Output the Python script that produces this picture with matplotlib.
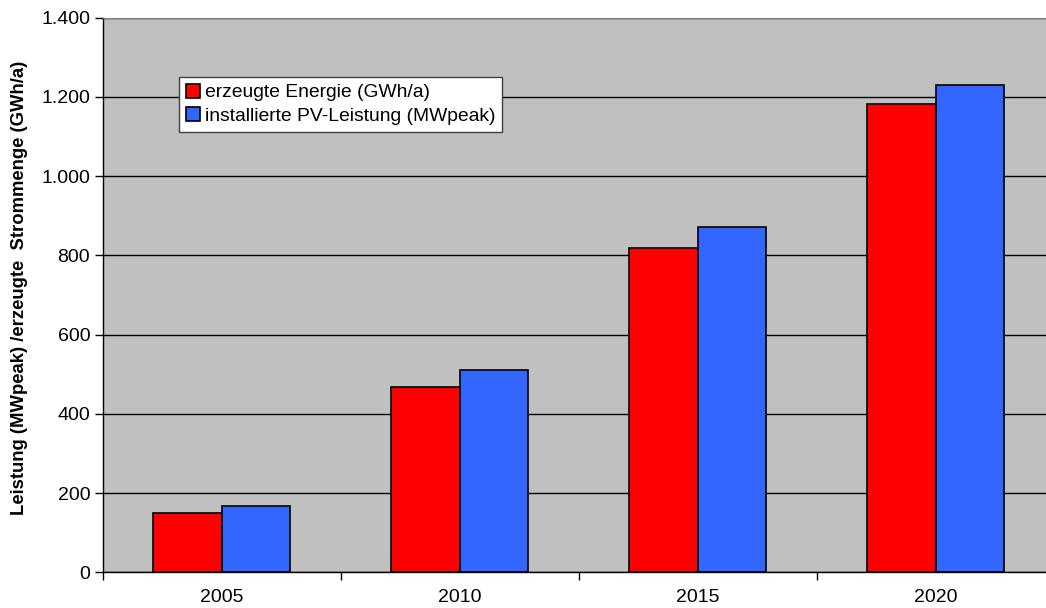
import matplotlib.pyplot as plt
import numpy as np
from matplotlib.ticker import FuncFormatter

# Data
years = ['2005', '2010', '2015', '2020']
energie = [150, 467, 819, 1182]      # erzeugte Energie (GWh/a)
leistung = [167, 510, 871, 1229]     # installierte PV-Leistung (MWpeak)

plt.rcParams['font.family'] = ['Liberation Sans', 'DejaVu Sans']

fig = plt.figure(figsize=(10.46, 6.08), dpi=100)
# plot area runs past the right edge of the picture, as in the original
ax = fig.add_axes([102.7 / 1046, 35.7 / 608, 952 / 1046, 554.8 / 608])
ax.set_facecolor('#C0C0C0')

x = np.arange(1, len(years) + 1)
w = 0.2875
ax.bar(x - w / 2, energie, w, color='#FF0000', edgecolor='black', linewidth=1.2,
       label='erzeugte Energie (GWh/a)', zorder=3)
ax.bar(x + w / 2, leistung, w, color='#3366FF', edgecolor='black', linewidth=1.2,
       label='installierte PV-Leistung (MWpeak)', zorder=3)

ax.set_xlim(0.5, len(years) + 0.5)
ax.set_ylim(0, 1400)
ax.set_yticks(np.arange(0, 1401, 200))
ax.yaxis.set_major_formatter(FuncFormatter(lambda v, p: f'{int(v):,}'.replace(',', '.')))
ax.yaxis.grid(True, color='black', linewidth=1, zorder=1)
ax.set_axisbelow(True)

# category labels at centres, tick marks between categories
ax.set_xticks(x)
ax.set_xticklabels(years)
ax.tick_params(axis='x', length=0, pad=12, labelsize=14)
ax.set_xticks(np.arange(0.5, len(years) + 1, 1), minor=True)
ax.tick_params(axis='x', which='minor', length=6, width=1, direction='out')
ax.tick_params(axis='y', length=6, width=1, direction='out', labelsize=14, pad=3)

ax.spines['top'].set_color('#808080')
ax.spines['right'].set_visible(False)
ax.spines['left'].set_linewidth(1)
ax.spines['bottom'].set_linewidth(1)

ax.set_ylabel('Leistung (MWpeak) /erzeugte  Strommenge (GWh/a)', fontsize=13.3,
              fontweight='bold')
ax.yaxis.set_label_coords(-0.078, 0.513)

leg = ax.legend(loc='upper left', bbox_to_anchor=(0.080, 0.893), fontsize=13.9,
                frameon=True, fancybox=False, framealpha=1, edgecolor='#404040',
                handlelength=0.75, handleheight=0.75, handletextpad=0.25,
                borderpad=0.35, labelspacing=0.3, borderaxespad=0)
leg.get_frame().set_linewidth(1)

plt.savefig('out.png', dpi=100)
